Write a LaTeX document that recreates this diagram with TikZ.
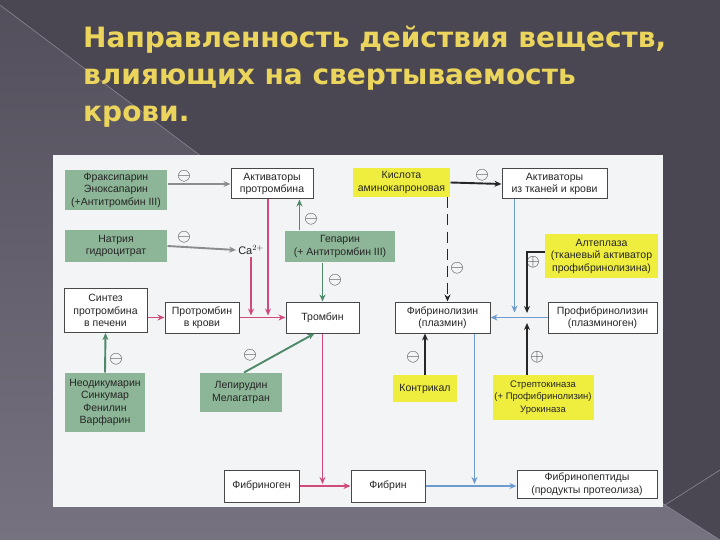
\documentclass[tikz,border=0pt]{standalone}
\usepackage{fontspec}
\setmainfont{Liberation Sans}
\newfontfamily\titlefont{DejaVu Sans}
\usetikzlibrary{arrows.meta}

\definecolor{bgdark}{HTML}{4A4753}
\definecolor{bglight}{HTML}{76727F}
\definecolor{bgline}{HTML}{8A8794}
\definecolor{titleyellow}{HTML}{EBD55C}
\definecolor{panelbg}{HTML}{F3F4F6}
\definecolor{boxgreen}{HTML}{8DB597}
\definecolor{boxyellow}{HTML}{EFEE3E}
\definecolor{arrpink}{HTML}{D04A7E}
\definecolor{arrblue}{HTML}{6B9BCF}
\definecolor{arrgray}{HTML}{8C8C8C}
\definecolor{arrgreen}{HTML}{4E8A6A}
\definecolor{inktext}{HTML}{262626}

\tikzset{
  box/.style={draw=inktext!85, line width=1pt, fill=white, align=center, inner sep=1pt,
    font=\fontsize{10.5}{12.5}\selectfont, text=inktext},
  grnbox/.style={box, draw=none, fill=boxgreen},
  ylwbox/.style={box, draw=none, fill=boxyellow},
  sign/.style={font=\fontsize{16}{16}\selectfont, text=inktext, inner sep=0pt},
  pnkarr/.style={draw=arrpink, line width=1.9pt},
  bluarr/.style={draw=arrblue, line width=1.9pt},
  gryarr/.style={draw=arrgray, line width=1.9pt},
  grnarr/.style={draw=arrgreen, line width=1.9pt},
  blkarr/.style={draw=black!85, line width=1.9pt}
}

\begin{document}
\begin{tikzpicture}[x=1pt,y=-1pt,>={Stealth[length=7pt,width=6pt]}]
  \useasboundingbox (0,0) rectangle (720,540);
  % slide background
  \fill[bgdark] (0,0) rectangle (720,540);
  \shade[top color=bgdark!80!bglight, bottom color=bglight] (0,5) -- (665,505) -- (720,540) -- (0,540) -- cycle;
  \draw[bgline, line width=0.6pt] (0,5) -- (665,505) -- (720,470) (665,505) -- (720,540);
  \node[anchor=north west, align=left, inner sep=0pt, text=titleyellow,
    font=\titlefont\bfseries\fontsize{28}{37}\selectfont] (title) at (83,26)
    {Направленность действия веществ,\\влияющих на свертываемость\\крови.};
  % scanned panel
  \fill[panelbg] (53,155) rectangle (663,507);

  % boxes
  \node[grnbox, minimum width=102pt, minimum height=40pt] (fraks) at (116,190) {Фраксипарин\\Эноксапарин\\(+Антитромбин III)};
  \node[box, minimum width=82pt, minimum height=30pt] (aktprot) at (272,184) {Активаторы\\протромбина};
  \node[grnbox, minimum width=102pt, minimum height=32pt] (natr) at (116,246) {Натрия\\гидроцитрат};
  \node[font=\fontsize{11}{12}\selectfont, text=inktext, inner sep=2pt] (ca) at (251,250) {Ca$^{2+}$};
  \node[grnbox, minimum width=110pt, minimum height=31pt] (gep) at (340,246.5) {Гепарин\\(+ Антитромбин III)};
  \node[box, minimum width=83pt, minimum height=44pt] (sintez) at (105.5,310.5) {Синтез\\протромбина\\в печени};
  \node[box, minimum width=74pt, minimum height=31pt] (protr) at (202,317.5) {Протромбин\\в крови};
  \node[box, minimum width=73pt, minimum height=31pt] (tromb) at (322.5,317.5) {Тромбин};
  \node[ylwbox, minimum width=97pt, minimum height=29pt] (kisl) at (401.5,182.5) {Кислота\\аминокапроновая};
  \node[box, minimum width=105pt, minimum height=30pt] (aktk) at (554.5,184) {Активаторы\\из тканей и крови};
  \node[ylwbox, minimum width=113pt, minimum height=44pt] (alte) at (601.5,256) {Алтеплаза\\(тканевый активатор\\профибринолизина)};
  \node[box, minimum width=95pt, minimum height=31pt] (fibrl) at (442.5,317.5) {Фибринолизин\\(плазмин)};
  \node[box, minimum width=109pt, minimum height=31pt] (profib) at (602.5,317.5) {Профибринолизин\\(плазминоген)};
  \node[grnbox, minimum width=80pt, minimum height=59pt] (neod) at (105,402.5) {Неодикумарин\\Синкумар\\Фенилин\\Варфарин};
  \node[grnbox, minimum width=82pt, minimum height=39pt] (lepir) at (241,392.5) {Лепирудин\\Мелагатран};
  \node[ylwbox, minimum width=64pt, minimum height=27pt] (kontr) at (425,388.5) {Контрикал};
  \node[ylwbox, minimum width=101pt, minimum height=45pt, font=\fontsize{9.5}{12.5}\selectfont] (strept) at (543,397.5) {Стрептокиназа\\(+ Профибринолизин)\\Урокиназа};
  \node[box, minimum width=75pt, minimum height=32pt] (fibrg) at (261.5,486) {Фибриноген};
  \node[box, minimum width=74pt, minimum height=32pt] (fibrin) at (388,486) {Фибрин};
  \node[box, minimum width=140pt, minimum height=28pt] (fibpep) at (587,484) {Фибринопептиды\\(продукты протеолиза)};
  \coordinate (jn) at (527,318);

  % connectors
  \draw[gryarr,->] (fraks.east |- aktprot.west) -- (aktprot.west);
  \draw[gryarr,->] (natr.east) -- (ca.west);
  \draw[grnarr,->] ([xshift=15pt]gep.north west) -- ([xshift=15pt]gep.north west |- aktprot.south);
  \draw[grnarr,->] (gep.south -| tromb.north) -- (tromb.north);
  \draw[pnkarr,->,shorten >=2pt] (ca.south) -- (ca.south |- protr.east);
  \draw[pnkarr,->,shorten >=2pt] ([xshift=-4pt]aktprot.south) -- ([xshift=-4pt]aktprot.south |- protr.east);
  \draw[pnkarr,->] (sintez.east |- protr.west) -- (protr.west);
  \draw[pnkarr,->] (protr.east) -- (tromb.west);
  \draw[pnkarr,->,shorten >=2pt] (tromb.south) -- (tromb.south |- fibrg.east);
  \draw[pnkarr,->] (fibrg.east) -- (fibrin.west);
  \draw[grnarr,->] (neod.north) -- (sintez.south);
  \draw[grnarr,->] ([xshift=3pt]lepir.north) -- ([xshift=-8pt]tromb.south);
  \draw[blkarr,->] (kisl.east) -- (aktk.west);
  \draw[blkarr,->,dash pattern=on 11pt off 6pt] ([xshift=-3pt]kisl.south east) -- ([xshift=-3pt]kisl.south east |- fibrl.north);
  \draw[bluarr,->,shorten >=5pt] ([xshift=13pt]aktk.south west) -- ([xshift=13pt]aktk.south west |- fibrl.east);
  \draw[bluarr,->] (profib.west) -- (fibrl.east);
  \draw[blkarr,->,shorten >=5pt] ([yshift=4pt]alte.west) -| (jn);
  \draw[blkarr,->,shorten >=5pt] (strept.north -| jn) -- (jn);
  \draw[blkarr,line width=2.6pt,->] (kontr.north) -- (kontr.north |- fibrl.south);
  \draw[bluarr,->,shorten >=2pt] ([xshift=32pt]fibrl.south) -- ([xshift=32pt]fibrl.south |- fibrin.east);
  \draw[bluarr,->] (fibrin.east) -- (fibrin.east -| fibpep.west);

  % signs
  \node[sign] (sfraks) at (184,176) {$\ominus$};
  \node[sign] (snatr) at (184,237) {$\ominus$};
  \node[sign] (sgepup) at (311,219) {$\ominus$};
  \node[sign] (sgepdn) at (335,280) {$\ominus$};
  \node[sign] (sneod) at (116,359) {$\ominus$};
  \node[sign] (slepir) at (250,355) {$\ominus$};
  \node[sign] (skisl) at (482,175) {$\ominus$};
  \node[sign] (skisldn) at (457,268) {$\ominus$};
  \node[sign] (salte) at (533,262) {$\oplus$};
  \node[sign] (skontr) at (413,357) {$\ominus$};
  \node[sign] (sstrept) at (537,357) {$\oplus$};
\end{tikzpicture}
\end{document}
